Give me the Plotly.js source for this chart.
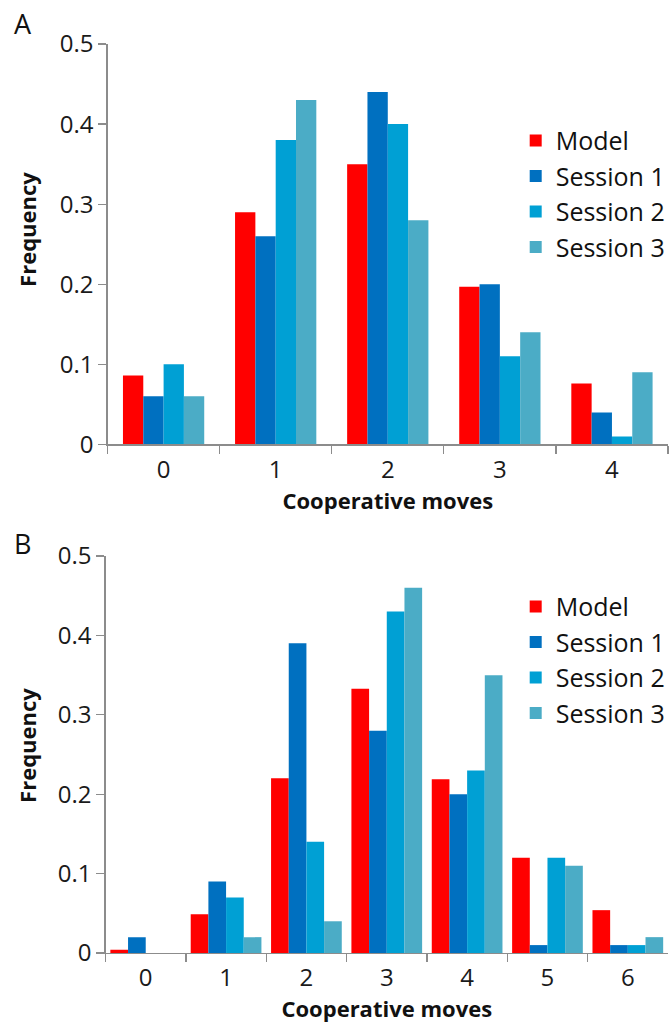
<!DOCTYPE html>
<html>
<head>
<meta charset="utf-8">
<script src="https://cdn.plot.ly/plotly-3.0.1.min.js"></script>
<style>html,body{margin:0;padding:0;background:#fff;}#chart{width:671px;height:1024px;}</style>
</head>
<body>
<div id="chart"></div>
<script>
// ---- Data ----
const seriesNames = ["Model", "Session 1", "Session 2", "Session 3"];
const seriesColors = ["#ff0000", "#0070c0", "#00a0d4", "#4bacc6"];

// Panel A
const catsA = ["0", "1", "2", "3", "4"];
const modelA    = [0.086, 0.29, 0.35, 0.197, 0.076];
const session1A = [0.06, 0.26, 0.44, 0.20, 0.04];
const session2A = [0.10, 0.38, 0.40, 0.11, 0.01];
const session3A = [0.06, 0.43, 0.28, 0.14, 0.09];

// Panel B
const catsB = ["0", "1", "2", "3", "4", "5", "6"];
const modelB    = [0.004, 0.049, 0.22, 0.333, 0.219, 0.12, 0.054];
const session1B = [0.02, 0.09, 0.39, 0.28, 0.20, 0.01, 0.01];
const session2B = [0.0, 0.07, 0.14, 0.43, 0.23, 0.12, 0.01];
const session3B = [0.0, 0.02, 0.04, 0.46, 0.35, 0.11, 0.02];

const yTickVals = [0, 0.1, 0.2, 0.3, 0.4, 0.5];
const yTickText = ["0", "0.1", "0.2", "0.3", "0.4", "0.5"];

// ---- Build traces ----
const FONT = "Open Sans, Noto Sans, sans-serif";
const valuesA = [modelA, session1A, session2A, session3A];
const valuesB = [modelB, session1B, session2B, session3B];

function makeTraces(cats, values, xa, ya, legendName, groupFrac) {
  const w = groupFrac / values.length;
  return values.map((v, i) => ({
    type: "bar",
    x: cats,
    y: v,
    name: seriesNames[i],
    xaxis: xa,
    yaxis: ya,
    legend: legendName,
    width: w,
    offset: -groupFrac / 2 + i * w,
    marker: { color: seriesColors[i], line: { width: 0 } },
    hoverinfo: "x+y+name"
  }));
}

const traces = [
  ...makeTraces(catsA, valuesA, "x", "y", "legend", 0.725),
  ...makeTraces(catsB, valuesB, "x2", "y2", "legend2", 0.88)
];

const axisColor = "#8c8c8c";
const tickFont = { family: FONT, size: 24, color: "#1a1a1a" };
const titleFont = { family: FONT, size: 22, color: "#111", weight: "bold" };

function xAxis(domain, anchor, standoff) {
  return {
    domain: domain, anchor: anchor, type: "category",
    showline: true, linecolor: axisColor, linewidth: 1.3,
    ticks: "outside", tickson: "boundaries", ticklen: 8, tickcolor: axisColor, tickwidth: 1.3,
    ticklabelstandoff: 3,
    showgrid: false, zeroline: false, tickfont: tickFont,
    title: { text: "<b>Cooperative moves</b>", font: titleFont, standoff: standoff },
    fixedrange: true
  };
}
function yAxis(domain, anchor) {
  return {
    domain: domain, anchor: anchor, range: [0, 0.5],
    tickvals: yTickVals, ticktext: yTickText,
    showline: true, linecolor: axisColor, linewidth: 1.3,
    ticks: "outside", ticklen: 8, tickcolor: axisColor, tickwidth: 1.3,
    showgrid: false, zeroline: false, tickfont: tickFont,
    fixedrange: true
  };
}

const legendStyle = (x, y) => ({
  x: x, y: y, xref: "paper", yref: "paper", xanchor: "left", yanchor: "top",
  font: { family: FONT, size: 25, color: "#111" },
  traceorder: "normal", bgcolor: "rgba(0,0,0,0)", borderwidth: 0
});

const layout = {
  width: 671, height: 1024,
  margin: { l: 0, r: 0, t: 0, b: 0 },
  paper_bgcolor: "#fff", plot_bgcolor: "#fff",
  barmode: "group",
  showlegend: true,
  xaxis: xAxis([0.161, 1], "y", 2),
  yaxis: yAxis([0.566, 0.957], "x"),
  xaxis2: xAxis([0.158, 1], "y2", 2),
  yaxis2: yAxis([0.0693, 0.457], "x2"),
  legend: legendStyle(0.772, 0.885),
  legend2: legendStyle(0.772, 0.430),
  annotations: [
    { text: "A", xref: "paper", yref: "paper", x: 12 / 671, y: 1 - 3 / 1024, xanchor: "left", yanchor: "top",
      showarrow: false, font: { family: FONT, size: 27, color: "#111" } },
    { text: "B", xref: "paper", yref: "paper", x: 12 / 671, y: 1 - 523 / 1024, xanchor: "left", yanchor: "top",
      showarrow: false, font: { family: FONT, size: 27, color: "#111" } },
    { text: "<b>Frequency</b>", xref: "paper", yref: "paper", x: 27 / 671, y: 1 - 229 / 1024,
      xanchor: "center", yanchor: "middle", textangle: -90, showarrow: false, font: titleFont },
    { text: "<b>Frequency</b>", xref: "paper", yref: "paper", x: 27 / 671, y: 1 - 745 / 1024,
      xanchor: "center", yanchor: "middle", textangle: -90, showarrow: false, font: titleFont }
  ]
};

Plotly.newPlot("chart", traces, layout, { displayModeBar: false, staticPlot: true });
</script>
</body>
</html>
